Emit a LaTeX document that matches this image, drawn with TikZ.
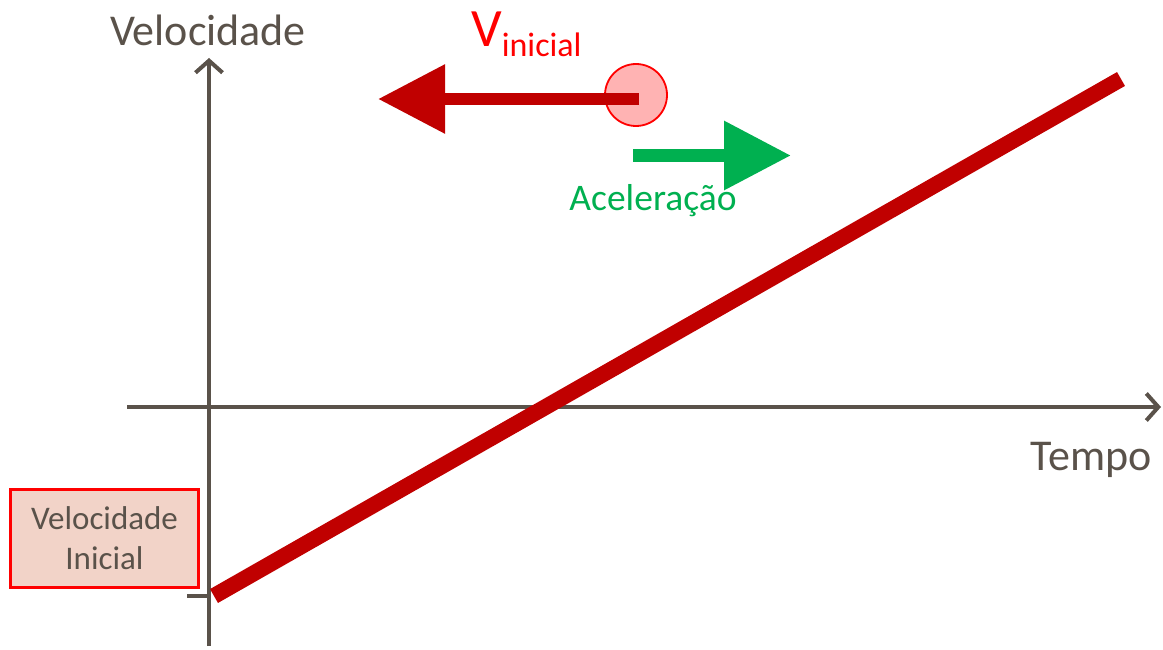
\documentclass[tikz,border=0pt]{standalone}
\usepackage{fontspec}
\setmainfont{Carlito}
\usetikzlibrary{arrows.meta}
\definecolor{axisgray}{HTML}{5A524A}
\definecolor{darkred}{HTML}{C00000}
\definecolor{accgreen}{HTML}{00B050}
\definecolor{boxfill}{HTML}{F2D3C8}
\definecolor{circfill}{HTML}{FFB3B3}
\begin{document}
\begin{tikzpicture}[x=1pt,y=-1pt,
  axisline/.style={draw=axisgray,line width=4pt,-{Straight Barb[length=12pt,width=27pt]}},
  axislabel/.style={text=axisgray,font=\fontsize{44}{50}\selectfont,inner sep=0pt,anchor=base},
  vecarrow/.style={line width=12.5pt,-{Triangle[length=67pt,width=66pt]}},
]
\useasboundingbox (0,0) rectangle (1163,650);
% axes
\coordinate (ybot) at (209,646);
\coordinate (ytop) at (209,58);
\coordinate (xleft) at (127,407);
\coordinate (xright) at (1161,407);
\draw[axisline] (ybot) -- (ytop);
\draw[axisline] (xleft) -- (xright);
\coordinate (tickL) at (187,596);
\coordinate (tickR) at (209,596);
\draw[axisgray,line width=4pt] (tickL) -- (tickR);
% labels
\node[axislabel] (vlabel) at (208,46) {Velocidade};
\node[axislabel] (tlabel) at (1091,470) {Tempo};
% velocity line
\coordinate (lstart) at (214,596);
\coordinate (lend) at (1121,79);
\draw[darkred,line width=16pt] (lstart) -- (lend);
% initial velocity box
\node[draw=red,fill=boxfill,line width=3.5pt,minimum width=188pt,minimum height=98pt,
  text=axisgray,font=\fontsize{33}{40}\selectfont,align=center,inner sep=0pt] (vbox) at (104.5,538.5)
  {Velocidade\\Inicial};
% particle and velocity vector
\node[circle,draw=red,fill=circfill,line width=1.8pt,minimum size=62pt,inner sep=0pt] (ball) at (636,95) {};
\coordinate (vstart) at (639,99);
\coordinate (vtip) at (378,99);
\draw[darkred,vecarrow] (vstart) -- (vtip);
\node[text=red,inner sep=0pt,anchor=base west] (vini) at (471,47)
  {\fontsize{54}{60}\selectfont V\raisebox{-10pt}{\fontsize{34}{40}\selectfont inicial}};
% acceleration vector
\coordinate (astart) at (633,155.5);
\coordinate (atip) at (791,155.5);
\draw[accgreen,vecarrow,line width=13pt] (astart) -- (atip);
\node[text=accgreen,font=\fontsize{37.5}{44}\selectfont,inner sep=0pt,anchor=base] (alabel) at (653,211) {Aceleração};
\end{tikzpicture}
\end{document}
